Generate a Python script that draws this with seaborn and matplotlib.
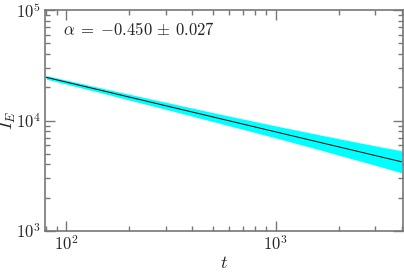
import matplotlib
matplotlib.use("Agg")
import matplotlib.pyplot as plt
import matplotlib.ticker as mticker
import numpy as np
import pandas as pd
import seaborn as sns

# band of measured I_E (lower / upper edge of the error bars)
t_band = [80, 100, 150, 200, 300, 500, 700, 1000, 1500, 2000, 3000, 4000]
I_low = [23700, 21300, 17600, 15300, 12600, 9800, 8300, 6960, 5660, 4860, 3930, 3360]
I_high = [25500, 23200, 19500, 17300, 14600, 11800, 10300, 8940, 7640, 6850, 5890, 5320]

# power-law fit line
t_fit = [80, 4000]
I_fit = [24600, 4230]

fit_label = r"$\alpha\;=\;{-}0.450\,\pm\,0.027$"

sns.set_style("ticks")
plt.rcParams["mathtext.fontset"] = "cm"
plt.rcParams["font.family"] = ["DejaVu Serif"]

grey = "#777777"

fig = plt.figure(figsize=(4.04, 2.75), dpi=100)
ax = fig.add_axes([45 / 404, 1 - 231 / 275, 358 / 404, 221 / 275])

ax.fill_between(t_band, I_low, I_high, color="#00ffff", linewidth=0)
fit = pd.DataFrame({"t": t_fit, "I": I_fit})
sns.lineplot(data=fit, x="t", y="I", color="black", linewidth=0.7, ax=ax)

ax.set_xscale("log")
ax.set_yscale("log")
ax.set_xlim(79, 4065)
ax.set_ylim(1e3, 1e5)


def pow10(v, pos):
    return r"$10^{%d}$" % round(np.log10(v))


ax.xaxis.set_major_locator(mticker.LogLocator(base=10))
ax.yaxis.set_major_locator(mticker.LogLocator(base=10))
ax.xaxis.set_minor_locator(mticker.LogLocator(base=10, subs=np.arange(2, 10)))
ax.yaxis.set_minor_locator(mticker.LogLocator(base=10, subs=np.arange(2, 10)))
ax.xaxis.set_major_formatter(mticker.FuncFormatter(pow10))
ax.yaxis.set_major_formatter(mticker.FuncFormatter(pow10))
ax.xaxis.set_minor_formatter(mticker.NullFormatter())
ax.yaxis.set_minor_formatter(mticker.NullFormatter())

ax.tick_params(which="both", direction="in", top=True, right=True,
               color=grey, labelsize=12, width=1.0)
ax.tick_params(which="major", length=7, pad=3)
ax.tick_params(which="minor", length=3.5)
for sp in ax.spines.values():
    sp.set_color(grey)
    sp.set_linewidth(1.2)

ax.set_xlabel(r"$t$", fontsize=13, labelpad=0)
ax.set_ylabel(r"$I_E$", fontsize=13, labelpad=-1.5)
ax.text(0.05, 0.905, fit_label, transform=ax.transAxes, fontsize=12,
        ha="left", va="center")

fig.savefig("out.png", dpi=100)
